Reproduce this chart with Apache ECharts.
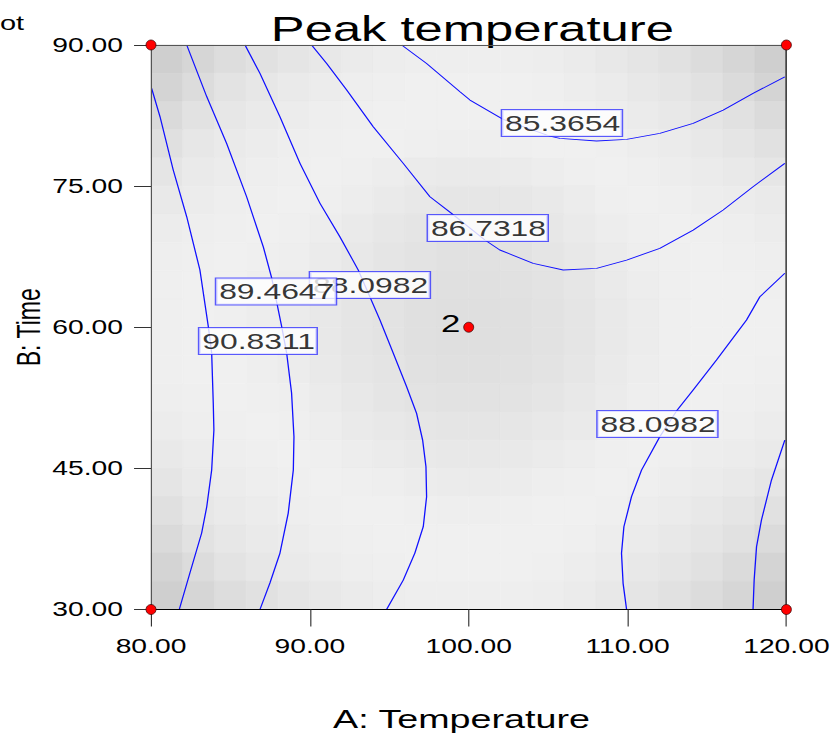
<!DOCTYPE html>
<html><head><meta charset="utf-8">
<script src="https://cdn.jsdelivr.net/npm/echarts@6/dist/echarts.min.js"></script>
<style>
html,body{margin:0;padding:0;background:#fff;overflow:hidden;}
#wrap{width:839px;height:734px;overflow:hidden;position:relative;}
#chart{width:579px;height:734px;transform:scaleX(1.449050);transform-origin:0 0;}
</style></head><body><div id="wrap"><div id="chart"></div></div>
<script>
// ---- data ----
const xTicks = [80, 90, 100, 110, 120];
const yTicks = [30, 45, 60, 75, 90];
const cellX = [81,83,85,87,89,91,93,95,97,99,101,103,105,107,109,111,113,115,117,119];
const cellY = [88.5,85.5,82.5,79.5,76.5,73.5,70.5,67.5,64.5,61.5,58.5,55.5,52.5,49.5,46.5,43.5,40.5,37.5,34.5,31.5];
const shade = [
 [207,214,221,225,229,232,235,237,238,238,238,238,237,235,232,229,225,220,214,207],
 [212,220,227,231,234,236,238,239,240,240,240,240,239,237,235,232,229,225,219,212],
 [218,226,231,234,236,238,239,240,240,240,240,240,240,239,237,235,232,229,225,219],
 [224,231,234,236,238,239,240,240,239,238,238,239,240,240,239,237,235,232,229,225],
 [229,234,236,238,239,240,239,237,235,234,234,235,237,239,240,239,237,235,233,230],
 [233,236,238,239,240,239,237,234,232,230,230,231,233,236,239,240,239,237,236,234],
 [236,238,239,240,239,237,234,231,229,227,227,228,231,234,237,239,240,239,238,236],
 [238,239,240,239,238,235,232,229,227,225,225,226,229,232,235,238,239,240,239,238],
 [239,240,240,238,236,233,230,228,225,224,224,225,227,230,234,237,239,240,240,239],
 [239,240,239,237,235,232,229,227,224,223,223,224,226,229,233,236,239,240,240,240],
 [239,240,239,237,235,232,229,227,224,223,223,224,226,229,233,236,239,240,240,240],
 [239,240,240,238,236,233,230,228,225,224,224,225,227,230,234,237,239,240,240,239],
 [238,239,240,239,238,235,232,229,227,226,226,227,229,232,235,238,239,240,239,238],
 [236,238,239,240,239,237,234,232,230,229,229,230,232,234,237,239,240,239,238,236],
 [233,236,238,239,240,239,237,235,233,232,232,233,235,237,239,240,239,237,236,234],
 [229,234,236,238,239,240,239,238,236,235,235,236,238,239,240,239,237,235,233,230],
 [224,231,234,236,238,239,240,240,239,238,238,239,240,240,239,237,235,232,229,225],
 [218,226,231,234,236,238,239,240,240,240,240,240,240,239,237,235,232,229,225,219],
 [212,220,227,231,234,236,238,239,240,240,240,240,239,237,235,232,229,225,219,212],
 [207,214,221,225,229,232,235,237,238,238,238,238,237,235,232,229,225,220,214,207]
];
const c90_8311 = [[80.04,85.39],[80.57,82.37],[81.40,76.71],[82.25,71.74],[83.08,66.08],[83.61,60.05],[83.82,57.26],[83.92,51.94],[83.96,49.07],[83.82,44.82],[83.51,40.92],[83.19,38.13],[82.45,33.88],[81.78,30]];
const c89_4647 = [[82.25,90],[83.51,84.50],[84.76,79.54],[86.02,73.87],[87.07,68.55],[87.60,65.23],[88.23,60.05],[88.54,57.26],[88.85,53.01],[89.00,48.36],[88.96,44.82],[88.64,40.25],[88.12,36.00],[87.49,32.82],[86.86,30]];
const c88_0982 = [[85.92,90],[86.86,86.98],[88.12,82.37],[89.38,77.42],[90.64,73.17],[91.89,69.62],[93.05,66.08],[94.41,60.79],[95.25,57.26],[96.09,53.68],[96.72,50.85],[97.10,48.01],[97.31,45.18],[97.35,41.99],[97.14,38.80],[96.61,36.00],[95.88,33.13],[94.83,30]];
const c86_7318 = [[90.11,90],[91.06,88.04],[92.32,85.21],[93.99,81.31],[95.88,77.42],[97.56,73.87],[98.92,72.10],[101.02,69.27],[101.96,68.21],[104.06,66.79],[105.95,66.08],[108.05,66.26],[109.94,67.14],[112.03,68.38],[114.13,70.33],[116.02,72.46],[117.90,74.93],[119.90,77.42]];
const c85_3654 = [[95.78,90],[97.35,88.04],[99.45,85.03],[100.08,84.15],[102.17,82.09],[105.11,80.32],[105.74,80.07],[108.05,79.79],[109.94,79.97],[112.03,80.61],[114.13,81.67],[116.02,83.08],[117.90,84.86],[119.90,86.62]];
const c88_0982b = [[109.94,30],[109.72,32.78],[109.62,35.97],[109.77,38.80],[110.25,41.99],[110.88,44.82],[112.03,48.36],[113.08,51.09],[114.13,53.33],[115.60,56.52],[117.49,60.77],[118.33,63.24],[119.90,65.73]];
const c89_4647b = [[117.90,30],[117.97,33.13],[118.12,36.67],[118.43,39.51],[119.06,43.76],[119.90,48.01]];
const contourLines = [c90_8311, c89_4647, c88_0982, c86_7318, c85_3654, c88_0982b, c89_4647b];
const labelTexts = ['88.0982','89.4647','90.8311','86.7318','85.3654','88.0982'];
const labelAt = [[93.78,64.48],[87.87,63.8],[86.73,58.53],[101.2,70.54],[105.87,81.7],[111.88,49.71]];
const designPoints = [[80,30],[80,90],[120,30],[120,90],[100,60]];
const designLabels = ['','','','','2'];

// ---- chart ----
const FONT = "'Liberation Sans', Arial, sans-serif";
const SX = 839 / 579;
const cellW = cellX[1] - cellX[0];
const cellH = cellY[0] - cellY[1];
const cells = [];
shade.forEach((row, r) => row.forEach((g, c) => cells.push([cellX[c], cellY[r], g])));

const chart = echarts.init(document.getElementById('chart'), null, {renderer: 'svg'});
const fmt = v => Number(v).toFixed(2);
const option = {
  animation: false,
  backgroundColor: '#fff',
  title: {
    text: 'Peak temperature', left: 321, top: 6, textAlign: 'center',
    textStyle: {fontFamily: FONT, fontSize: 35, fontWeight: 'normal', color: '#000'}
  },
  graphic: [{type: 'text', left: 0, top: 13, style: {text: 'ot', font: "20px 'Liberation Sans', Arial", fill: '#000'}}],
  grid: {left: 104.2, right: 36.3, top: 45, bottom: 124.5, containLabel: false, outerBoundsMode: 'none'},
  xAxis: [{
    type: 'value', min: 80, max: 120, interval: 10, z: 10,
    name: 'A: Temperature', nameLocation: 'middle', nameGap: 97, nameMoveOverlap: false,
    nameTextStyle: {fontFamily: FONT, fontSize: 26, color: '#000', padding: [0, 10, 0, 0]},
    axisLine: {show: true, onZero: false, lineStyle: {color: '#000', width: 1}},
    axisTick: {show: true, length: 17, lineStyle: {color: '#333', width: 0.8}},
    axisLabel: {formatter: fmt, fontFamily: FONT, fontSize: 19.5, color: '#000', margin: 27},
    splitLine: {show: false}
  }, {
    type: 'value', min: 80, max: 120, position: 'top', z: 10,
    axisLine: {show: true, onZero: false, lineStyle: {color: '#555', width: 1}},
    axisTick: {show: false}, axisLabel: {show: false}, splitLine: {show: false}
  }],
  yAxis: [{
    type: 'value', min: 30, max: 90, interval: 15, z: 10,
    name: 'B: Time', nameLocation: 'middle', nameGap: 73, nameMoveOverlap: false,
    nameTextStyle: {fontFamily: FONT, fontSize: 23, color: '#000'},
    axisLine: {show: true, onZero: false, lineStyle: {color: '#555', width: 0.8}},
    axisTick: {show: true, length: 11.7, lineStyle: {color: '#333', width: 1}},
    axisLabel: {formatter: fmt, fontFamily: FONT, fontSize: 19.5, color: '#000', margin: 19.3},
    splitLine: {show: false}
  }, {
    type: 'value', min: 30, max: 90, position: 'right', z: 10,
    axisLine: {show: true, onZero: false, lineStyle: {color: '#000', width: 0.8}},
    axisTick: {show: false}, axisLabel: {show: false}, splitLine: {show: false}
  }],
  series: [
    {
      type: 'custom', z: 1, silent: true, data: cells,
      renderItem: (params, api) => {
        const x = api.value(0), y = api.value(1), g = api.value(2);
        const p0 = api.coord([x - cellW / 2, y + cellH / 2]);
        const p1 = api.coord([x + cellW / 2, y - cellH / 2]);
        const col = 'rgb(' + g + ',' + g + ',' + g + ')';
        return {type: 'rect', shape: {x: p0[0], y: p0[1], width: p1[0] - p0[0], height: p1[1] - p0[1]},
          style: {fill: col, stroke: col, lineWidth: 0.6}};
      }
    },
    ...contourLines.map(d => ({
      type: 'line', z: 3, data: d, showSymbol: false, symbol: 'none', silent: true,
      lineStyle: {color: '#1010ff', width: 0.9}
    })),
    {
      type: 'scatter', z: 5, symbolSize: 0, silent: true,
      data: labelAt.map((p, i) => ({value: p, name: labelTexts[i]})),
      label: {show: true, position: 'inside', formatter: '{b}', color: '#000', fontFamily: FONT, fontSize: 22,
        lineHeight: 24, backgroundColor: '#fff', borderColor: '#3333ff', borderWidth: 1, padding: [1, 1, 1, 2]}
    },
    {
      type: 'scatter', z: 20, clip: false, silent: true, symbol: 'circle', symbolSize: [10 / SX, 10],
      data: designPoints,
      itemStyle: {color: '#ff0000', borderColor: '#300', borderWidth: 0.6, opacity: 1},
      label: {show: true, position: 'left', distance: 2, offset: [0, -4], formatter: p => designLabels[p.dataIndex],
        fontFamily: FONT, fontSize: 24, color: '#000'}
    }
  ]
};
chart.setOption(option);
</script></body></html>
